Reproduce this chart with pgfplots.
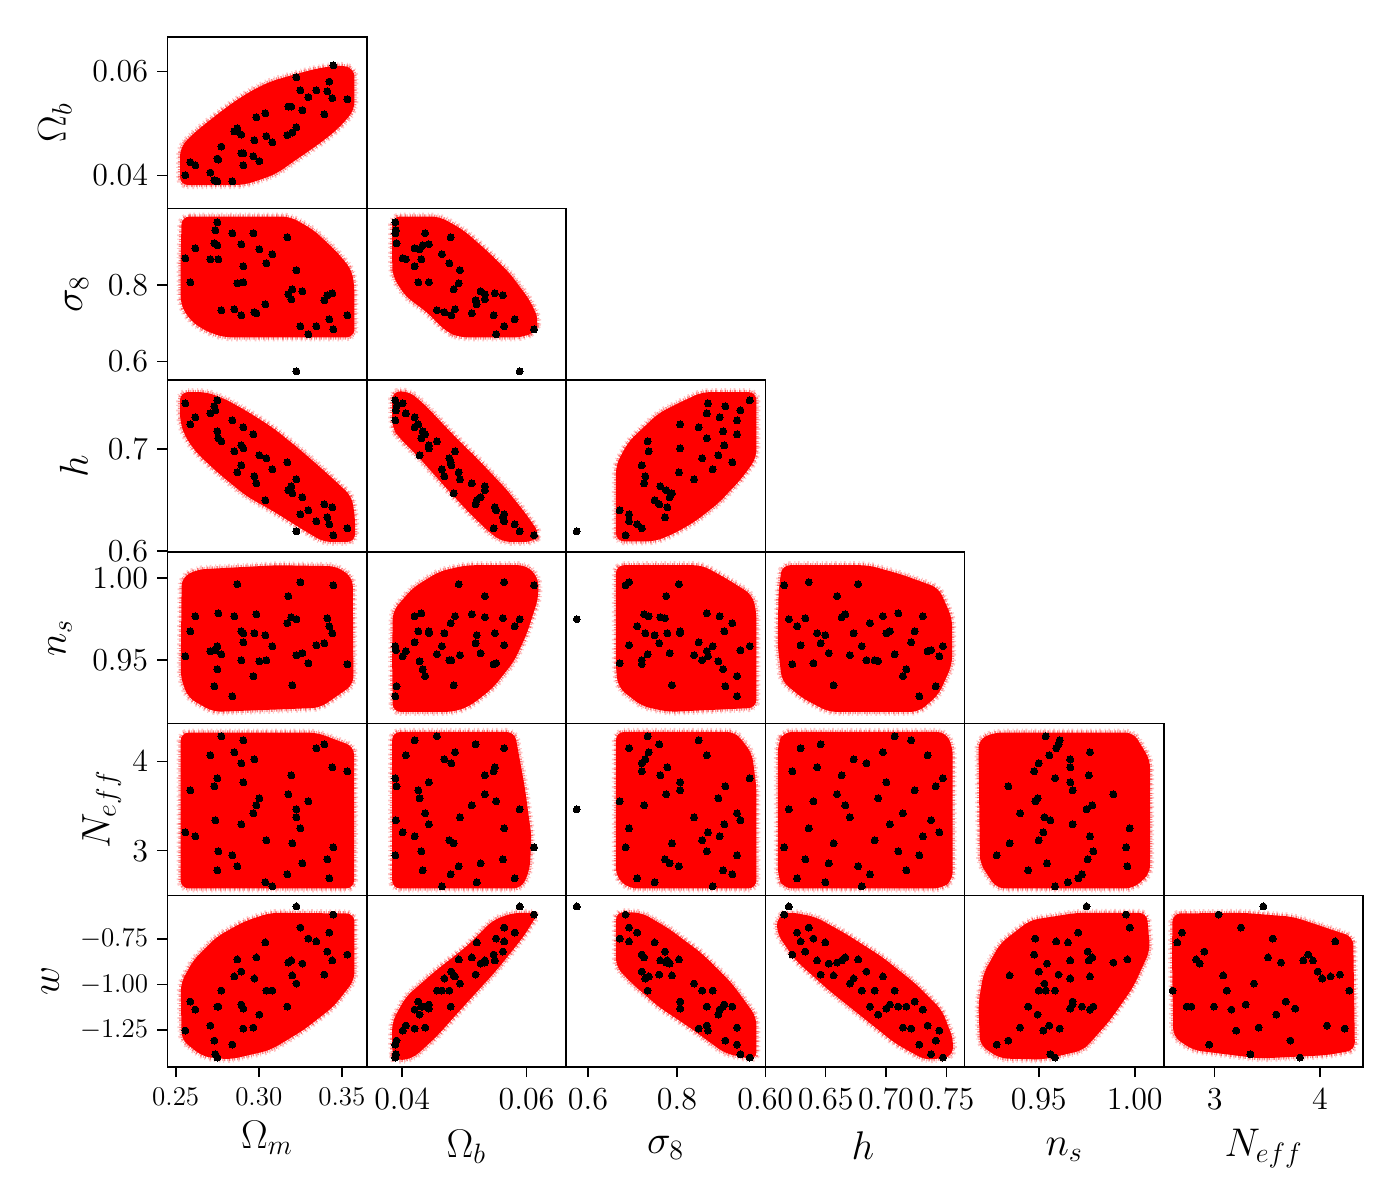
\RequirePackage{fix-cm}
\documentclass[border=0pt]{standalone}
\usepackage{pgfplots}
\usepackage{pgfplotstable}
\pgfplotsset{compat=1.18}
\pgfplotstableread{
Om Ob s8 h ns Neff w
.2558 .0401 .8696 .7442 .9524 3.205 -1.2527
.2588 .0426 .8070 .7237 .9676 3.675 -1.0934
.2618 .0420 .8957 .7305 .9767 3.160 -1.1374
.2709 .0406 .8670 .7344 .9555 4.067 -1.2253
.2733 .0391 .9087 .7412 .9342 3.720 -1.3077
.2739 .0390 .9426 .7373 .9561 3.340 -1.3828
.2751 .0389 .9635 .7471 .9585 3.810 -1.4011
.2751 .0433 .9035 .7169 .9445 2.780 -1.1209
.2757 .0431 .8670 .7101 .9785 2.993 -1.1209
.2775 .0456 .7339 .7071 .9536 4.280 -1.0330
.2841 .0389 .9348 .7276 .9281 2.948 -1.3297
.2853 .0485 .7365 .6974 .9767 4.101 -.9560
.2871 .0491 .8043 .6769 .9962 2.825 -.8626
.2895 .0479 .7209 .6838 .9500 3.978 -.9286
.2895 .0443 .9061 .7032 .9676 3.295 -1.1099
.2907 .0420 .8487 .7208 .9609 4.235 -1.2418
.2907 .0443 .8070 .7003 .9664 3.765 -1.1319
.2968 .0437 .9348 .7140 .9403 3.418 -1.2363
.2974 .0468 .7287 .6731 .9664 4.022 -.9670
.2986 .0512 .7261 .6662 .9779 3.507 -.8516
.3004 .0428 .8930 .6935 .9494 3.586 -1.1648
.3040 .0520 .7496 .6497 .9652 2.646 -.7692
.3046 .0476 .8565 .6906 .9500 3.116 -1.0330
.3082 .0464 .8800 .6799 .9585 2.601 -1.0330
.3172 .0478 .9243 .6867 .9725 2.735 -1.1209
.3178 .0533 .7757 .6594 .9889 3.631 -.8791
.3196 .0533 .7626 .6633 .9761 3.843 -.8681
.3202 .0483 .7887 .6565 .9348 3.082 -.9505
.3227 .0493 .8383 .6701 .9530 3.373 -.9945
.3227 .0589 .5748 .6195 .9749 3.463 -.5714
.3251 .0564 .6922 .6360 .9974 3.250 -.6868
.3263 .0526 .7835 .6526 .9543 2.858 -.8846
.3299 .0551 .6713 .6399 .9482 3.552 -.7473
.3347 .0564 .6922 .6292 .9591 4.146 -.7637
.3395 .0518 .7600 .6458 .9603 4.190 -.9451
.3413 .0562 .7730 .6331 .9755 2.903 -.8187
.3425 .0581 .7104 .6263 .9706 2.690 -.7143
.3443 .0549 .7783 .6429 .9664 3.933 -.8681
.3449 .0612 .6843 .6156 .9955 3.037 -.6154
.3534 .0547 .7209 .6224 .9476 3.888 -.8352
}\pts
\newcommand\bigf{\fontsize{16}{18}\selectfont}
\newcommand\smallf{\fontsize{13.5}{16}\selectfont}
\newcommand\labf{\fontsize{20}{24}\selectfont}
\pgfplotsset{
 base/.style={anchor=south west, scale only axis, width=99.65pt, height=85.85pt,
   xtick=\empty, ytick=\empty, axis on top, axis line style={line width=.8pt},
   scaled ticks=false,
   tick align=outside, major tick length=5pt, tick style={line width=.8pt,black},
   xtick pos=bottom, ytick pos=left,
   xticklabel style={inner sep=0pt, yshift=-5.5pt, font=\bigf},
   yticklabel style={inner sep=0pt, xshift=-4.5pt, font=\bigf}},
 c1/.style={xmin=.2450,xmax=.3650},
 c2/.style={xmin=.03431,xmax=.06634},
 c3/.style={xmin=.5506,xmax=.9984},
 c4/.style={xmin=.6,xmax=.7651},
 c5/.style={xmin=.9114,xmax=1.0152},
 c6/.style={xmin=2.5185,xmax=4.411},
 r1/.style={ymin=.03365,ymax=.06667},
 r2/.style={ymin=.5515,ymax=.9990},
 r3/.style={ymin=.5993,ymax=.7667},
 r4/.style={ymin=.9115,ymax=1.0158},
 r5/.style={ymin=2.501,ymax=4.4217},
 r6/.style={ymin=-1.4533,ymax=-.5099},
 core/.style={fill=red, draw=none, forget plot, rounded corners=4pt},
 fuzzA/.style={draw=red, opacity=.5, line width=2.2pt, rounded corners=4pt, dash pattern=on .7pt off .5pt on .3pt off .9pt, forget plot},
 fuzzB/.style={draw=red, opacity=.22, line width=4pt, rounded corners=4pt, dash pattern=on .5pt off 1.3pt on .9pt off 1.9pt, forget plot},
 blk/.style={only marks, mark=*, mark size=1.75pt, black, mark options={draw=black,fill=black,line width=0pt}, forget plot},
 L1/.style={yticklabels={$0.04$,$0.06$},ytick={.04,.06}},
 L2/.style={ytick={.6,.8},yticklabels={$0.6$,$0.8$}},
 L3/.style={ytick={.6,.7},yticklabels={$0.6$,$0.7$}},
 L4/.style={ytick={.95,1},yticklabels={$0.95$,$1.00$}},
 L5/.style={ytick={3,4},yticklabels={$3$,$4$}},
 L6/.style={ytick={-1.25,-1,-.75},yticklabels={$-1.25$,$-1.00$,$-0.75$},yticklabel style={font=\smallf}},
 B1/.style={xtick={.25,.3,.35},xticklabels={$0.25$,$0.30$,$0.35$},xticklabel style={font=\smallf}},
 B2/.style={xtick={.04,.06},xticklabels={$0.04$,$0.06$}},
 B3/.style={xtick={.6,.8},xticklabels={$0.6$,$0.8$}},
 B4/.style={xtick={.6,.65,.7,.75},xticklabels={$0.60$,$0.65$,$0.70$,$0.75$}},
 B5/.style={xtick={.95,1},xticklabels={$0.95$,$1.00$}},
 B6/.style={xtick={3,4},xticklabels={$3$,$4$}},
}
% #1 left, #2 bottom, #3 col, #4 row, #5 ticks, #6 x column, #7 y column, #8 outline of the sample cloud
\newcommand\panel[8]{%
\begin{axis}[base, at={(#1pt,#2pt)}, #3, #4, #5]
\addplot[fuzzB] coordinates {#8} --cycle;
\addplot[fuzzA] coordinates {#8} --cycle;
\addplot[core] coordinates {#8} --cycle;
\addplot[blk] table[x=#6,y=#7]{\pts};
\end{axis}}
\begin{document}
\begin{tikzpicture}
\path[use as bounding box] (0,0) rectangle (700pt,600pt);
% row 1
\panel{83.7}{495.65}{c1}{r1}{L1}{Om}{Ob}{(.2526,.0382)(.2526,.0453)(.2586,.0475)(.2667,.0497)(.2747,.0517)(.2837,.0539)(.2948,.0562)(.3068,.0581)(.3208,.0594)(.3349,.0606)(.3489,.0613)(.3576,.0606)(.3576,.0526)(.3489,.0494)(.3409,.0472)(.3309,.0449)(.3208,.0427)(.3108,.0404)(.3008,.0392)(.2907,.0382)}
% row 2
\panel{83.7}{409.85}{c1}{r2}{L2}{Om}{s8}{(.2536,.9783)(.3188,.9783)(.3329,.9435)(.3469,.8870)(.3560,.8391)(.3576,.7957)(.3576,.6635)(.2787,.6635)(.2667,.6826)(.2586,.7087)(.2530,.7478)(.2530,.8739)}
\panel{183.35}{409.85}{c2}{r2}{}{Ob}{s8}{(.0384,.9783)(.0460,.9783)(.0498,.9435)(.0535,.8913)(.0573,.8304)(.0605,.7609)(.0620,.7087)(.0613,.6783)(.0595,.6635)(.0492,.6635)(.0471,.6783)(.0439,.7304)(.0406,.7696)(.0385,.8217)(.0384,.8565)}
% row 3
\panel{83.7}{324}{c1}{r3}{L3}{Om}{h}{(.2526,.7552)(.2687,.7552)(.2807,.7477)(.2948,.7347)(.3088,.7201)(.3249,.6990)(.3409,.6763)(.3560,.6536)(.3580,.6325)(.3580,.6091)(.3389,.6091)(.3249,.6227)(.3088,.6390)(.2927,.6536)(.2767,.6747)(.2626,.6958)(.2556,.7120)(.2526,.7266)}
\panel{183.35}{324}{c2}{r3}{}{Ob}{h}{(.0384,.7558)(.0412,.7558)(.0439,.7412)(.0482,.7136)(.0525,.6877)(.0568,.6601)(.0600,.6357)(.0622,.6162)(.0611,.6091)(.0562,.6091)(.0541,.6179)(.0503,.6406)(.0466,.6649)(.0428,.6909)(.0396,.7104)(.0384,.7201)}
\panel{283}{324}{c3}{r3}{}{s8}{h}{(.6629,.6097)(.6629,.6844)(.6914,.7071)(.7588,.7347)(.8037,.7445)(.8562,.7552)(.9783,.7552)(.9783,.6909)(.9461,.6714)(.8936,.6471)(.8412,.6292)(.7963,.6179)(.7513,.6097)}
% row 4
\panel{83.7}{238.2}{c1}{r4}{L4}{Om}{ns}{(.2536,1.000)(.2626,1.0051)(.3108,1.0077)(.3469,1.0071)(.3566,1.000)(.3570,.9352)(.3369,.9211)(.2727,.9186)(.2576,.9271)(.2530,.9393)}
\panel{183.35}{238.2}{c2}{r4}{}{Ob}{ns}{(.0385,.9798)(.0417,.9939)(.0460,1.0040)(.0503,1.0077)(.0600,1.0077)(.0619,1.000)(.0619,.9879)(.0600,.9656)(.0580,.9494)(.0546,.9332)(.0509,.9221)(.0482,.9186)(.0385,.9186)(.0384,.9494)}
\panel{283}{238.2}{c3}{r4}{}{s8}{ns}{(.6629,1.0077)(.8562,1.0077)(.9086,1.000)(.9685,.9899)(.9783,.9798)(.9783,.9211)(.7813,.9186)(.7213,.9221)(.6689,.9332)(.6629,.9433)}
\panel{382.65}{238.2}{c4}{r4}{}{h}{ns}{(.6110,.9919)(.6138,1.0077)(.6856,1.0077)(.7132,1.002)(.7436,.9939)(.7547,.9757)(.7547,.9474)(.7436,.9291)(.7270,.9186)(.6525,.9186)(.6304,.9271)(.6138,.9372)(.6102,.9595)}
% row 5
\panel{83.7}{152.35}{c1}{r5}{L5}{Om}{Neff}{(.2530,4.321)(.3349,4.321)(.3574,4.164)(.3574,2.578)(.2530,2.578)}
\panel{183.35}{152.35}{c2}{r5}{}{Ob}{Neff}{(.0384,4.328)(.0581,4.328)(.0597,3.716)(.0608,3.157)(.0605,2.784)(.0592,2.578)(.0384,2.578)}
\panel{283}{152.35}{c3}{r5}{}{s8}{Neff}{(.6629,4.328)(.9311,4.328)(.9685,4.090)(.9783,3.716)(.9783,2.578)(.6914,2.578)(.6629,2.709)}
\panel{382.65}{152.35}{c4}{r5}{}{h}{Neff}{(.6152,4.328)(.7491,4.328)(.7552,4.164)(.7552,2.672)(.7464,2.578)(.6152,2.578)(.6105,2.709)(.6105,4.201)}
\panel{482.3}{152.35}{c5}{r5}{}{ns}{Neff}{(.9186,4.239)(.9264,4.321)(.9993,4.321)(1.0080,4.015)(1.0080,2.746)(.9993,2.578)(.9281,2.578)(.9194,2.858)}
% row 6
\panel{83.7}{66.5}{c1}{r6}{L6,B1}{Om}{w}{(.2530,-.9945)(.2606,-.8663)(.2747,-.7381)(.2907,-.6557)(.3068,-.6062)(.3576,-.6099)(.3576,-.9762)(.3449,-1.1227)(.3269,-1.2509)(.3068,-1.3608)(.2827,-1.4121)(.2667,-1.3974)(.2536,-1.3059)}
\panel{183.35}{66.5}{c2}{r6}{B2}{Ob}{w}{(.0384,-1.2051)(.0406,-1.0678)(.0455,-.9212)(.0503,-.7930)(.0546,-.6465)(.0578,-.6062)(.0619,-.6062)(.0595,-.7381)(.0552,-.9212)(.0503,-1.1044)(.0455,-1.2875)(.0417,-1.4066)(.0388,-1.4194)(.0384,-1.3791)}
\panel{283}{66.5}{c3}{r6}{B3}{s8}{w}{(.6629,-.6007)(.7213,-.6062)(.7813,-.6923)(.8562,-.8297)(.9236,-.9945)(.9783,-1.1777)(.9783,-1.4158)(.9086,-1.3791)(.8262,-1.2326)(.7588,-1.1227)(.6989,-.9945)(.6629,-.9029)}
\panel{382.65}{66.5}{c4}{r6}{B4}{h}{w}{(.6097,-.6282)(.6193,-.6007)(.6414,-.6282)(.6663,-.7198)(.6967,-.8480)(.7243,-.9945)(.7464,-1.1410)(.7560,-1.3059)(.7547,-1.3974)(.7326,-1.4158)(.7077,-1.3242)(.6801,-1.1777)(.6525,-1.0311)(.6249,-.8663)(.6097,-.7198)}
\panel{482.3}{66.5}{c5}{r6}{B5}{ns}{w}{(.9186,-1.1044)(.9212,-.9396)(.9299,-.7747)(.9455,-.6465)(.9698,-.6062)(1.0063,-.6062)(1.0080,-.8114)(.9993,-1.0128)(.9872,-1.1960)(.9733,-1.3608)(.9524,-1.4121)(.9299,-1.4066)(.9194,-1.3333)}
\panel{581.95}{66.5}{c6}{r6}{B6}{Neff}{w}{(2.601,-.6099)(3.272,-.6062)(3.747,-.6282)(4.316,-.7381)(4.332,-1.3608)(4.063,-1.3883)(3.430,-1.4066)(2.797,-1.3608)(2.608,-1.2875)(2.595,-.8297)}
% axis labels
\node[anchor=base,font=\labf,inner sep=0pt] at (133.5pt,26pt) {$\Omega_m$};
\node[anchor=base,font=\labf,inner sep=0pt] at (233.2pt,21.5pt) {$\Omega_b$};
\node[anchor=base,font=\labf,inner sep=0pt] at (332.8pt,23.5pt) {$\sigma_8$};
\node[anchor=base,font=\labf,inner sep=0pt] at (431.5pt,20.5pt) {$h$};
\node[anchor=base,font=\labf,inner sep=0pt] at (532.1pt,22.5pt) {$n_s$};
\node[anchor=base,font=\labf,inner sep=0pt] at (631.8pt,22pt) {$N_{eff}$};
\node[anchor=base,rotate=90,font=\labf,inner sep=0pt] at (32.8pt,538.6pt) {$\Omega_b$};
\node[anchor=base,rotate=90,font=\labf,inner sep=0pt] at (41pt,452.75pt) {$\sigma_8$};
\node[anchor=base,rotate=90,font=\labf,inner sep=0pt] at (43.8pt,366.9pt) {$h$};
\node[anchor=base,rotate=90,font=\labf,inner sep=0pt] at (32.8pt,281.1pt) {$n_s$};
\node[anchor=base,rotate=90,font=\labf,inner sep=0pt] at (54.75pt,195.3pt) {$N_{eff}$};
\node[anchor=base,rotate=90,font=\labf,inner sep=0pt] at (29.45pt,109.4pt) {$w$};
\end{tikzpicture}
\end{document}
